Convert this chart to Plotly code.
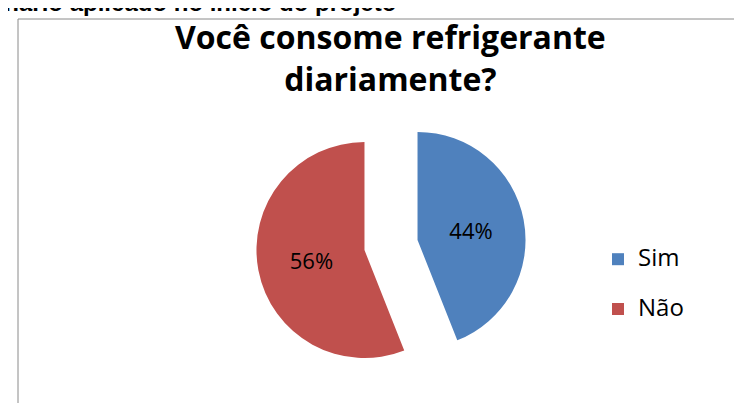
import plotly.graph_objects as go

labels = ["Sim", "Não"]
values = [44, 56]
colors = ["#4F81BD", "#C0504D"]
title_text = "Você consome refrigerante<br>diariamente?"
header_text = "Questionário aplicado no início do projeto"

W, H = 742, 403

# legend entries: larger visible text, with an empty second line for the wider row spacing
legend_labels = ["<span style='font-size:24px'>" + l + "</span><br>&nbsp;" for l in labels]

fig = go.Figure(go.Pie(
    labels=legend_labels,
    values=values,
    sort=False,
    direction="clockwise",
    rotation=0,
    pull=[0.25, 0.25],
    marker=dict(colors=colors, line=dict(width=0)),
    texttemplate="%{percent:.0%}",
    textposition="inside",
    insidetextorientation="horizontal",
    textfont=dict(family="Open Sans", size=22, color="#000000"),
    domain=dict(x=[248 / W, 518 / W], y=[31 / H, 301 / H]),
    hoverinfo="percent",
))

fig.update_layout(
    width=W, height=H,
    margin=dict(l=0, r=0, t=0, b=0),
    paper_bgcolor="white",
    plot_bgcolor="white",
    showlegend=True,
    legend=dict(
        x=590 / W, y=1 - 233 / H, xanchor="left", yanchor="top",
        font=dict(family="Open Sans", size=18, color="#000000"),
        bgcolor="rgba(0,0,0,0)",
        valign="top",
    ),
    annotations=[
        dict(text="<b>" + title_text + "</b>", x=383 / W, y=1 - 5 / H,
             xref="paper", yref="paper", xanchor="center", yanchor="top",
             showarrow=False, align="center",
             font=dict(family="Open Sans", size=32, color="#000000")),
        dict(text="<b>" + header_text + "</b>", x=390 / W, y=1 - 10 / H,
             xref="paper", yref="paper", xanchor="right", yanchor="bottom",
             showarrow=False,
             font=dict(family="Liberation Sans", size=24, color="#000000")),
    ],
    shapes=[
        dict(type="rect", xref="paper", yref="paper",
             x0=10 / W, x1=1.02, y0=-0.02, y1=1 - 11 / H,
             line=dict(color="#8a8a8a", width=1), fillcolor="rgba(0,0,0,0)"),
    ],
)

fig.write_html("out.html")
